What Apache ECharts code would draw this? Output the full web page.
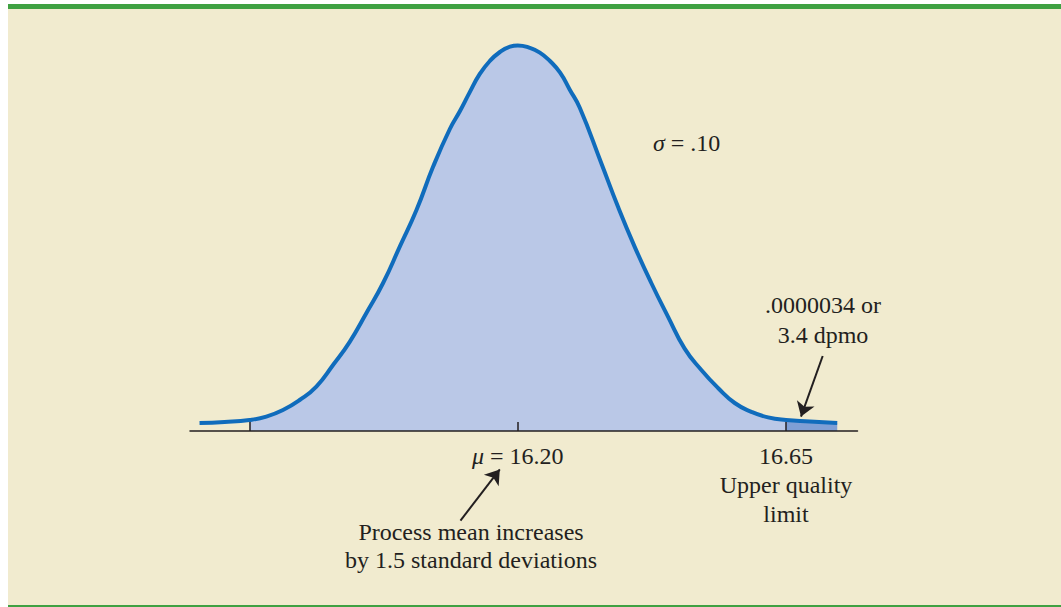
<!DOCTYPE html>
<html>
<head>
    <meta charset="utf-8">
    <title>Process mean shift - six sigma</title>
    <script src="https://cdn.jsdelivr.net/npm/echarts@6.0.0/dist/echarts.min.js"></script>
    <style>
        html, body { margin: 0; padding: 0; background: #ffffff; }
        #frame {
            position: absolute; left: 8px; top: 4px; width: 1053px; height: 603px;
            background: #f1ebcf;
            border-top: 5px solid #3fa142;
            border-bottom: 2px solid #3fa142;
            box-sizing: border-box;
        }
        #chart1 { position: absolute; left: 0; top: 0; width: 1061px; height: 607px; }
    </style>
</head>
<body>
<div id="frame"></div>
<div id="chart1"></div>

<script type="text/javascript">
    var xValues = [15.666, 15.708, 15.750, 15.778, 15.806, 15.834, 15.862, 15.890, 15.918, 15.946,
        15.974, 16.002, 16.030, 16.058, 16.086, 16.103, 16.119, 16.136, 16.153, 16.170,
        16.187, 16.200, 16.220, 16.237, 16.254, 16.271, 16.287, 16.304, 16.340, 16.368,
        16.396, 16.424, 16.452, 16.480, 16.508, 16.536, 16.564, 16.592, 16.620, 16.650,
        16.690, 16.736];
    var yValues = [2.0, 2.25, 2.75, 3.6, 5.25, 7.75, 11.1, 16.5, 22.3, 29.5,
        37.0, 46.1, 55.25, 66.1, 75.5, 80.0, 84.6, 89.2, 92.5, 94.75,
        96.1, 96.4, 95.8, 94.6, 92.5, 89.6, 85.4, 80.8, 67.0, 56.1,
        46.1, 37.0, 28.6, 20.6, 15.25, 10.75, 7.0, 4.8, 3.4, 2.75,
        2.4, 2.0];

    var tickValues = [15.75, 16.20, 16.65];
    var labelValues = [16.20, 16.65];
    var labelTexts = ['{i|μ} = 16.20', '16.65\nUpper quality\nlimit'];
    var lowerLimit = 15.75;
    var upperLimit = 16.65;

    // arrows: [from, to] in data coords
    var tailArrow = [[16.7116, 18.75], [16.6752, 3.6]];
    var meanArrow = [[16.1038, -22.4], [16.1698, -9.6]];

    var serif = '"Liberation Serif", "DejaVu Serif", serif';
    var ink = '#231f20';

    var curve = xValues.map(function (x, i) { return [x, yValues[i]]; });
    var middlePart = curve.filter(function (p) { return p[0] >= lowerLimit && p[0] <= upperLimit; });
    var tailPart = curve.filter(function (p) { return p[0] >= upperLimit; });

    var myChart1 = echarts.init(document.getElementById('chart1'), null, {renderer: 'svg'});

    myChart1.setOption({
        animation: false,
        backgroundColor: 'transparent',
        grid: [
            {left: 190, right: 203.5, top: 31, bottom: 176, outerBoundsMode: 'none', containLabel: false},
            // same x mapping, taller, for the arrows that go below the axis
            {left: 190, right: 203.5, top: 31, bottom: 16, outerBoundsMode: 'none', containLabel: false}
        ],
        xAxis: [{
            type: 'value',
            gridIndex: 0,
            min: 15.65,
            max: 16.77,
            z: 5,
            axisLine: {show: true, onZero: false, lineStyle: {color: ink, width: 1.5}},
            axisTick: {show: true, inside: true, length: 9, customValues: tickValues,
                lineStyle: {color: ink, width: 1.5}},
            axisLabel: {
                show: true,
                customValues: labelValues,
                hideOverlap: false,
                margin: 10,
                color: ink,
                fontFamily: serif,
                fontSize: 24,
                lineHeight: 29,
                formatter: function (v) {
                    for (var i = 0; i < labelValues.length; i++) {
                        if (Math.abs(labelValues[i] - v) < 1e-6) return labelTexts[i];
                    }
                    return '';
                },
                rich: {i: {fontStyle: 'italic', fontFamily: serif, fontSize: 24, lineHeight: 29, color: ink}}
            },
            splitLine: {show: false}
        }, {
            type: 'value',
            gridIndex: 1,
            min: 15.65,
            max: 16.77,
            show: false
        }],
        yAxis: [{
            type: 'value',
            gridIndex: 0,
            min: 0,
            max: 100,
            show: false
        }, {
            type: 'value',
            gridIndex: 1,
            min: -40,
            max: 100,
            show: false
        }],
        series: [
            {
                name: 'fill',
                type: 'line',
                data: middlePart,
                smooth: 0.5,
                showSymbol: false,
                lineStyle: {width: 0},
                areaStyle: {color: '#bac8e7', opacity: 1},
                z: 1
            },
            {
                name: 'tail',
                type: 'line',
                data: tailPart,
                smooth: 0.5,
                showSymbol: false,
                lineStyle: {width: 0},
                areaStyle: {color: '#7f9fd5', opacity: 1},
                z: 1
            },
            {
                name: 'curve',
                type: 'line',
                data: curve,
                smooth: 0.5,
                showSymbol: false,
                clip: false,
                lineStyle: {color: '#106cbc', width: 4},
                z: 3
            },
            {
                name: 'arrows',
                type: 'lines',
                coordinateSystem: 'cartesian2d',
                xAxisIndex: 1,
                yAxisIndex: 1,
                silent: true,
                symbol: ['none', 'arrow'],
                symbolSize: [9, 14],
                lineStyle: {color: ink, width: 2, opacity: 1},
                z: 6,
                data: [
                    {coords: tailArrow},
                    {coords: meanArrow}
                ]
            }
        ],
        graphic: [
            {
                type: 'text', left: 653, top: 131,
                style: {text: '{i|σ} = .10', font: '24px ' + serif, fill: ink,
                    rich: {i: {fontStyle: 'italic', fontFamily: serif, fontSize: 24}}}
            },
            {
                type: 'text', x: 823, y: 320,
                style: {text: '.0000034 or\n3.4 dpmo', font: '24px ' + serif, fill: ink,
                    align: 'center', verticalAlign: 'middle', lineHeight: 30}
            },
            {
                type: 'text', x: 471, y: 546,
                style: {text: 'Process mean increases\nby 1.5 standard deviations', font: '24px ' + serif,
                    fill: ink, align: 'center', verticalAlign: 'middle', lineHeight: 28.5}
            }
        ]
    });
</script>
</body>
</html>
